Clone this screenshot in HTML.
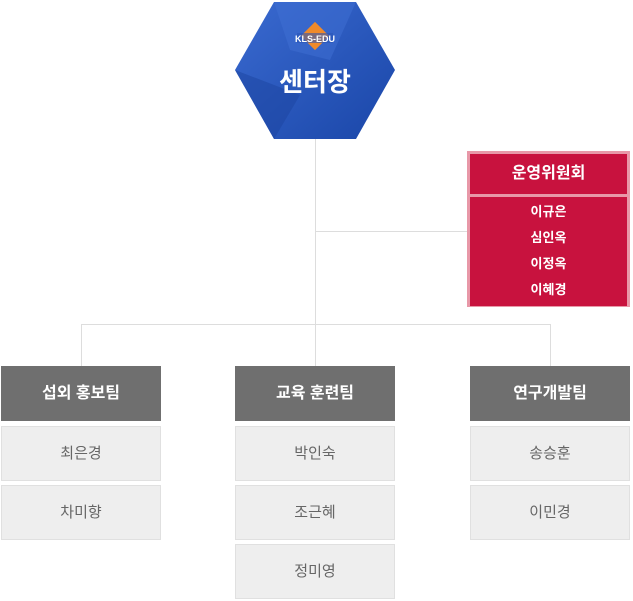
<!DOCTYPE html>
<html><head><meta charset="utf-8"><style>
body{margin:0;width:633px;height:601px;background:#fff;position:relative;overflow:hidden;font-family:"Liberation Sans","Noto Sans CJK KR",sans-serif}
.a{position:absolute;box-sizing:border-box;text-align:center}
.h{background:#6f6f6f;color:#fff;font-size:16px;font-weight:bold;height:55px;line-height:55px;width:160px}
.i{background:#eeeeee;border:1px solid #e0e0e0;color:#666;font-size:15px;height:55px;line-height:53px;width:160px}
.l{position:absolute;background:#dddddd}
</style></head><body>
<div class="l" style="left:315px;top:138px;width:1px;height:228px"></div>
<div class="l" style="left:315px;top:231px;width:152px;height:1px"></div>
<div class="l" style="left:81px;top:324px;width:470px;height:1px"></div>
<div class="l" style="left:81px;top:324px;width:1px;height:42px"></div>
<div class="l" style="left:550px;top:324px;width:1px;height:42px"></div>
<svg style="position:absolute;left:0;top:0" width="633" height="145">
<defs><linearGradient id="g" x1="0" y1="0" x2="1" y2="1"><stop offset="0" stop-color="#3a6ad0"/><stop offset="1" stop-color="#1a46a8"/></linearGradient></defs>
<polygon points="274,2 356,2 395,70 356,139 274,139 235,70" fill="url(#g)"/>
<polygon points="274,2 356,2 330,60 290,50" fill="#4070d4" opacity=".5"/>
<polygon points="235,70 300,95 274,139" fill="#1c44a0" opacity=".5"/>
<rect x="305" y="26" width="20" height="20" transform="rotate(45 315 36)" fill="#f08a2a"/>
<rect x="297" y="33" width="36" height="10" fill="#2a55b8" opacity=".6"/>
<text x="315" y="42" font-size="9" font-weight="bold" fill="#fff" text-anchor="middle" font-family="Liberation Sans">KLS-EDU</text>
<text x="315" y="91" font-size="26" font-weight="bold" fill="#fff" text-anchor="middle" font-family="Liberation Sans,Noto Sans CJK KR,sans-serif">센터장</text>
</svg>
<div class="a" style="left:467px;top:151px;width:163px;height:156px;background:#e898a8;padding:3px">
<div style="background:#c8123e;height:40px;line-height:40px;color:#fff;font-weight:bold;font-size:16px">운영위원회</div>
<div style="background:#c8123e;margin-top:3px;height:107px;color:#fff;font-size:13px;font-weight:bold;line-height:26px;padding-top:2px">이규은<br>심인옥<br>이정옥<br>이혜경</div>
</div>
<div class="a h" style="left:1px;top:366px">섭외 홍보팀</div>
<div class="a i" style="left:1px;top:426px">최은경</div>
<div class="a i" style="left:1px;top:485px">차미향</div>
<div class="a h" style="left:235px;top:366px">교육 훈련팀</div>
<div class="a i" style="left:235px;top:426px">박인숙</div>
<div class="a i" style="left:235px;top:485px">조근혜</div>
<div class="a i" style="left:235px;top:544px">정미영</div>
<div class="a h" style="left:470px;top:366px">연구개발팀</div>
<div class="a i" style="left:470px;top:426px">송승훈</div>
<div class="a i" style="left:470px;top:485px">이민경</div>
</body></html>
